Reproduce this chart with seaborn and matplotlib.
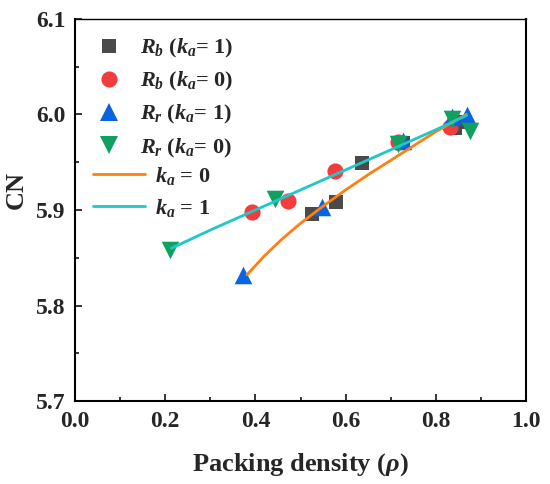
import matplotlib
matplotlib.use("Agg")
import matplotlib.pyplot as plt
from matplotlib.lines import Line2D
from matplotlib.ticker import MultipleLocator
import seaborn as sns

# ---------------------------------------------------------------------------
# measured points (packing density, CN)
rb_k1_x = [0.525, 0.578, 0.636, 0.728, 0.843, 0.857]
rb_k1_y = [5.896, 5.908, 5.949, 5.970, 5.986, 5.992]

rb_k0_x = [0.392, 0.473, 0.576, 0.717, 0.831]
rb_k0_y = [5.898, 5.909, 5.941, 5.971, 5.987]

rr_k1_x = [0.372, 0.547, 0.727, 0.835, 0.869]
rr_k1_y = [5.832, 5.903, 5.972, 5.997, 6.000]

rr_k0_x = [0.211, 0.443, 0.717, 0.835, 0.876]
rr_k0_y = [5.858, 5.911, 5.969, 5.995, 5.983]

# fitted curves
fit_k0_x = [0.381, 0.42, 0.46, 0.50, 0.55, 0.60, 0.65, 0.70, 0.75, 0.80, 0.868]
fit_k0_y = [5.832, 5.852, 5.870, 5.886, 5.904, 5.921, 5.937, 5.952, 5.967, 5.982, 6.000]

fit_k1_x = [0.214, 0.30, 0.40, 0.50, 0.60, 0.70, 0.80, 0.868]
fit_k1_y = [5.860, 5.879, 5.900, 5.921, 5.942, 5.963, 5.984, 5.999]

C_GRAY   = "#4a4a4a"
C_RED    = "#f53c3c"
C_BLUE   = "#0a64e0"
C_GREEN  = "#10a060"
C_ORANGE = "#ff7f10"
C_CYAN   = "#1ec8c8"

sns.set_style("ticks")
plt.rcParams["font.family"] = ["Liberation Serif", "DejaVu Serif"]
plt.rcParams["font.weight"] = "bold"
plt.rcParams["mathtext.fontset"] = "custom"
plt.rcParams["mathtext.rm"] = "Liberation Serif:bold"
plt.rcParams["mathtext.it"] = "Liberation Serif:italic:bold"
plt.rcParams["mathtext.bf"] = "Liberation Serif:bold"

fig = plt.figure(figsize=(5.5, 4.84), dpi=100)
ax = fig.add_axes([75 / 550, 1 - 401 / 484, 451 / 550, 382 / 484])

series = [
    (rb_k1_x, rb_k1_y, "s", C_GRAY, 100, r"$R_b$ ($k_a$= 1)"),
    (rb_k0_x, rb_k0_y, "o", C_RED, 135, r"$R_b$ ($k_a$= 0)"),
    (rr_k1_x, rr_k1_y, "^", C_BLUE, 160, r"$R_r$ ($k_a$= 1)"),
    (rr_k0_x, rr_k0_y, "v", C_GREEN, 160, r"$R_r$ ($k_a$= 0)"),
]
for xs, ys, mk, col, size, lab in series:
    sns.scatterplot(x=xs, y=ys, marker=mk, color=col, s=size,
                    linewidth=0, ax=ax, zorder=2)

sns.lineplot(x=fit_k0_x, y=fit_k0_y, color=C_ORANGE, lw=2, sort=False,
             estimator=None, ax=ax, zorder=3)
sns.lineplot(x=fit_k1_x, y=fit_k1_y, color=C_CYAN, lw=2, sort=False,
             estimator=None, ax=ax, zorder=3)

ax.set_xlim(0, 1.0)
ax.set_ylim(5.7, 6.1)
ax.xaxis.set_major_locator(MultipleLocator(0.2))
ax.xaxis.set_minor_locator(MultipleLocator(0.1))
ax.yaxis.set_major_locator(MultipleLocator(0.1))
ax.yaxis.set_minor_locator(MultipleLocator(0.05))
ax.tick_params(which="both", direction="in", top=False, right=False,
               width=1.3, labelsize=17)
ax.tick_params(which="major", length=5, pad=7)
ax.tick_params(which="minor", length=3)
ax.set_xticklabels([f"{v:.1f}" for v in ax.get_xticks()], fontweight="bold")
ax.set_yticklabels([f"{v:.1f}" for v in ax.get_yticks()], fontweight="bold")
for sp in ax.spines.values():
    sp.set_visible(True)
    sp.set_linewidth(1.5)
    sp.set_color("black")
ax.spines["top"].set_linewidth(1.0)

ax.set_xlabel(r"Packing density ($\rho$)", fontsize=19, fontweight="bold", labelpad=14)
ax.set_ylabel("CN", fontsize=19, fontweight="bold")
ax.yaxis.set_label_coords(-0.104, 0.552)

# two legends: markers and fit lines
mk_handles = [Line2D([], [], ls="none", marker=mk, color=col,
                     markersize=(size ** 0.5), markeredgewidth=0)
              for _, _, mk, col, size, _ in series]
mk_labels = [s[5] for s in series]
leg1 = ax.legend(mk_handles, mk_labels, loc="upper left", frameon=False,
                 fontsize=16, handlelength=1.0, handletextpad=0.9,
                 labelspacing=0.46, bbox_to_anchor=(0.051, 0.953),
                 borderaxespad=0, borderpad=0)
ax.add_artist(leg1)

ln_handles = [Line2D([], [], color=C_ORANGE, lw=2),
              Line2D([], [], color=C_CYAN, lw=2)]
ln_labels = [r"$k_a$ = 0", r"$k_a$ = 1"]
ax.legend(ln_handles, ln_labels, loc="upper left", frameon=False,
          fontsize=16, handlelength=2.34, handletextpad=0.45,
          labelspacing=0.46, bbox_to_anchor=(0.040, 0.618),
          borderaxespad=0, borderpad=0)

fig.savefig("out.png", dpi=100)
